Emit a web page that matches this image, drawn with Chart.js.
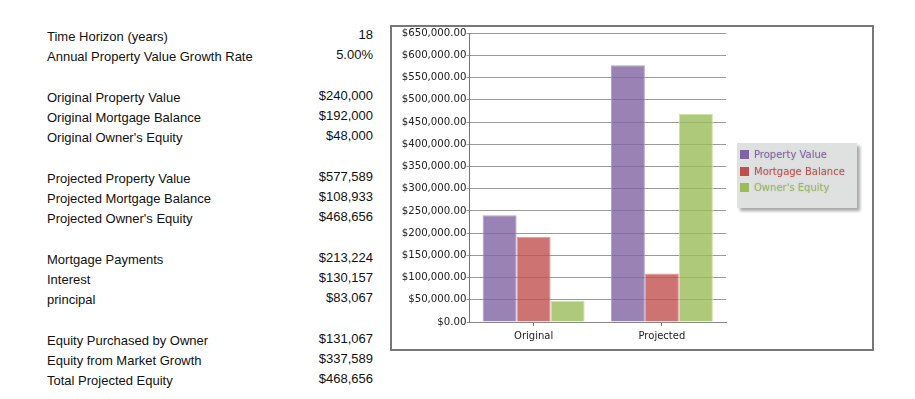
<!DOCTYPE html>
<html>
<head>
<meta charset="utf-8">
<script src="https://cdn.jsdelivr.net/npm/chart.js@4/dist/chart.umd.min.js"></script>
<style>
  body { margin: 0; background: #fff; width: 915px; height: 399px; position: relative; overflow: hidden; }
  #summary { position: absolute; left: 47px; top: 27px; width: 326px; font-family: "Liberation Sans", Arial, sans-serif; font-size: 13px; color: #111; border-collapse: collapse; }
  #summary td { padding: 0; height: 20px; line-height: 20px; }
  #summary td.v { text-align: right; position: relative; top: -2px; }
  #summary tr.gap td { height: 21px; }
  #chartBox { position: absolute; left: 390px; top: 25px; width: 480px; height: 322px; border: 2px solid #777; }
  #chartBox canvas { position: absolute; left: 0; top: 0; }
  #legend { position: absolute; left: 737px; top: 143px; width: 120px; height: 65px; background: #dfe0e0; box-shadow: 3px 3px 3px rgba(0,0,0,0.35); font-family: "DejaVu Sans", Verdana, sans-serif; font-size: 10px; }
  .leg-item { position: absolute; left: 3px; height: 12px; line-height: 12px; white-space: nowrap; text-shadow: 0 0 2px rgba(0,0,0,0.15); }
  .leg-item span { display: inline-block; width: 9px; height: 9px; vertical-align: -1px; margin-right: 5px; }
</style>
</head>
<body>
<table id="summary"></table>
<div id="chartBox"><canvas id="equityChart" width="480" height="322"></canvas></div>
<div id="legend"></div>
<script>
// summary rows (label, value), null = spacer row
const summaryRows = [
    ['Time Horizon (years)', '18'],
    ['Annual Property Value Growth Rate', '5.00%'],
    null,
    ['Original Property Value', '$240,000'],
    ['Original Mortgage Balance', '$192,000'],
    ["Original Owner's Equity", '$48,000'],
    null,
    ['Projected Property Value', '$577,589'],
    ['Projected Mortgage Balance', '$108,933'],
    ["Projected Owner's Equity", '$468,656'],
    null,
    ['Mortgage Payments', '$213,224'],
    ['Interest', '$130,157'],
    ['principal', '$83,067'],
    null,
    ['Equity Purchased by Owner', '$131,067'],
    ['Equity from Market Growth', '$337,589'],
    ['Total Projected Equity', '$468,656']
];

const categories = ['Original', 'Projected'];
const propertyValue = [240000, 577589];
const mortgageBalance = [192000, 108933];
const ownersEquity = [48000, 468656];
const seriesNames = ['Property Value', 'Mortgage Balance', "Owner's Equity"];
const yMax = 650000;
const yStep = 50000;

const table = document.getElementById('summary');
table.innerHTML = summaryRows.map(r => r === null
    ? '<tr class="gap"><td></td><td></td></tr>'
    : `<tr><td>${r[0]}</td><td class="v">${r[1]}</td></tr>`).join('');

const colors = [
    { fill: 'rgba(128, 100, 162, 0.8)', edge: 'rgba(170, 150, 200, 0.9)', text: '#8064a2', solid: '#8064a2' },
    { fill: 'rgba(192, 80, 77, 0.8)', edge: 'rgba(225, 150, 148, 0.9)', text: '#c0504d', solid: '#c0504d' },
    { fill: 'rgba(155, 187, 89, 0.8)', edge: 'rgba(200, 225, 150, 0.9)', text: '#9bbb59', solid: '#9bbb59' }
];

const seriesData = [propertyValue, mortgageBalance, ownersEquity];

const datasets = seriesData.map((d, i) => ({
    label: seriesNames[i],
    data: d,
    backgroundColor: colors[i].fill,
    borderColor: colors[i].edge,
    borderWidth: 1,
    barPercentage: 1.0,
    categoryPercentage: 0.795
}));

let cfg = {
    type: 'bar',
    data: { labels: categories, datasets: datasets },
    options: {
        responsive: false,
        animation: false,
        layout: { padding: { left: 0, right: 146, top: 5, bottom: 0 } },
        plugins: {
            legend: { display: false },
            tooltip: { enabled: false }
        },
        scales: {
            x: {
                grid: { display: true, drawOnChartArea: false, offset: false, tickLength: 4, color: '#777' },
                border: { color: '#888' },
                ticks: { font: { family: 'DejaVu Sans', size: 10 }, color: '#222', padding: 4 },
                afterFit: (scale) => { scale.height = 27; }
            },
            y: {
                min: 0,
                max: yMax,
                grid: { color: '#999', tickLength: 3 },
                border: { color: '#777' },
                ticks: {
                    stepSize: yStep,
                    font: { family: 'DejaVu Sans', size: 10.2 },
                    color: '#222',
                    padding: 0,
                    callback: v => '$' + v.toLocaleString('en-US', { minimumFractionDigits: 2, maximumFractionDigits: 2 })
                },
                afterFit: (scale) => { scale.width = 77.5; }
            }
        }
    }
};

const chartInstance = new Chart(document.getElementById('equityChart'), cfg);

// legend box on the right, built from the datasets
const legend = document.getElementById('legend');
legend.innerHTML = chartInstance.data.datasets.map((ds, i) => `
    <div class="leg-item" style="top:${6 + i * 16.5}px;color:${colors[i].text}">
        <span style="background:${colors[i].solid}"></span>${ds.label}
    </div>`).join('');
</script>
</body>
</html>
